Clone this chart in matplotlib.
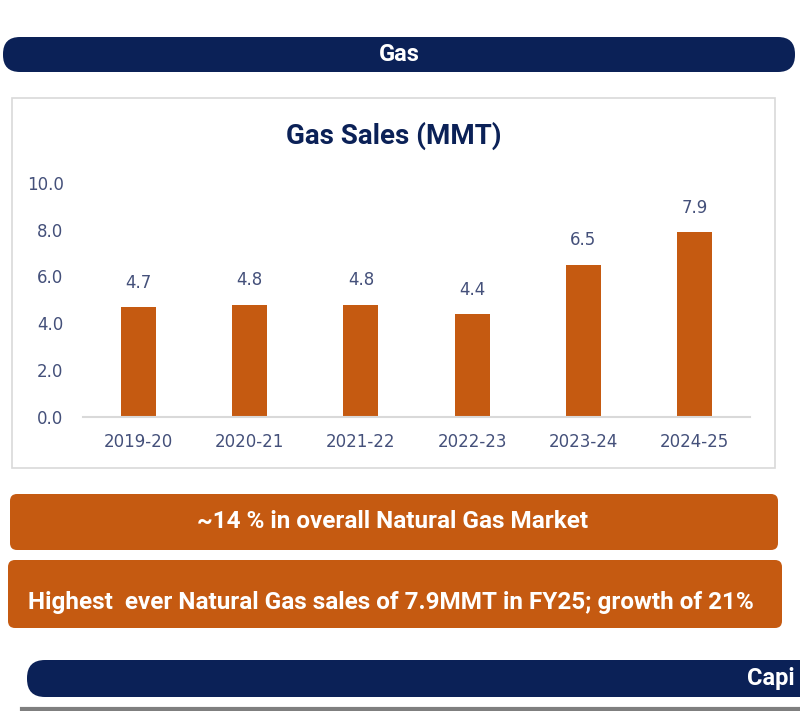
import matplotlib.pyplot as plt
from matplotlib.patches import FancyBboxPatch

# data
years = ['2019-20', '2020-21', '2021-22', '2022-23', '2023-24', '2024-25']
sales = [4.7, 4.8, 4.8, 4.4, 6.5, 7.9]
yticks = [0.0, 2.0, 4.0, 6.0, 8.0, 10.0]

navy = '#0b2157'
orange = '#c55a11'
tickc = '#44507a'

plt.rcParams['font.family'] = ['Roboto', 'DejaVu Sans']

W, H = 800, 711
fig = plt.figure(figsize=(W / 100, H / 100), dpi=100)
fig.patch.set_facecolor('white')

# background axes in pixel coords (y pointing down)
bg = fig.add_axes([0, 0, 1, 1])
bg.set_xlim(0, W)
bg.set_ylim(H, 0)
bg.axis('off')


def pill(x0, y0, x1, y1, color, r):
    p = FancyBboxPatch((x0 + r, y0 + r), (x1 - x0) - 2 * r, (y1 - y0) - 2 * r,
                       boxstyle='round,pad=%d,rounding_size=%d' % (r, r),
                       fc=color, ec='none', mutation_aspect=1)
    bg.add_patch(p)


# top banner
pill(3, 37, 795, 72, navy, 17)
bg.text(399, 54.5, 'Gas', color='white', fontsize=17, fontweight='bold',
        ha='center', va='center')

# chart frame
bg.add_patch(plt.Rectangle((12, 98), 763, 370, fc='white', ec='#d9d9d9', lw=1.2))
bg.text(394, 136, 'Gas Sales (MMT)', color=navy, fontsize=20, fontweight='bold',
        ha='center', va='center')

# orange boxes
pill(10, 494, 778, 550, orange, 7)
bg.text(393, 522, '~14 % in overall Natural Gas Market', color='white',
        fontsize=17.5, fontweight='bold', ha='center', va='center')
pill(8, 560, 782, 628, orange, 7)
bg.text(28, 602, 'Highest  ever Natural Gas sales of 7.9MMT in FY25; growth of 21%',
        color='white', fontsize=17.5, fontweight='bold', ha='left', va='center')

# bottom banner (cut off at the right edge)
pill(27, 660, 860, 697, navy, 18)
bg.text(747, 678, 'Capi', color='white', fontsize=17, fontweight='bold',
        ha='left', va='center')
bg.plot([22, 800], [709, 709], color='#7f7f7f', lw=3)

# bar chart
ax = fig.add_axes([83 / W, 1 - 416.7 / H, (750 - 83) / W, (416.7 - 183) / H])
ax.patch.set_alpha(0)
x = list(range(len(years)))
bars = ax.bar(x, sales, width=0.315, color=orange)
for xi, v in zip(x, sales):
    ax.annotate('%.1f' % v, (xi, v), xytext=(0, 17.5), textcoords='offset points',
                ha='center', va='center', color=tickc, fontsize=12,
                family='DejaVu Sans')
ax.set_xlim(-0.5, len(years) - 0.5)
ax.set_ylim(0, 10)
ax.set_yticks(yticks)
ax.set_yticklabels(['%.1f' % t for t in yticks])
ax.set_xticks(x)
ax.set_xticklabels(years)
for lab in ax.get_xticklabels() + ax.get_yticklabels():
    lab.set_family('DejaVu Sans')
ax.tick_params(axis='both', length=0, labelcolor=tickc, labelsize=12)
ax.tick_params(axis='y', pad=14)
ax.tick_params(axis='x', pad=12)
for s in ['top', 'right', 'left']:
    ax.spines[s].set_visible(False)
ax.spines['bottom'].set_color('#d9d9d9')
ax.spines['bottom'].set_linewidth(1.5)

fig.savefig('out.png', dpi=100)
